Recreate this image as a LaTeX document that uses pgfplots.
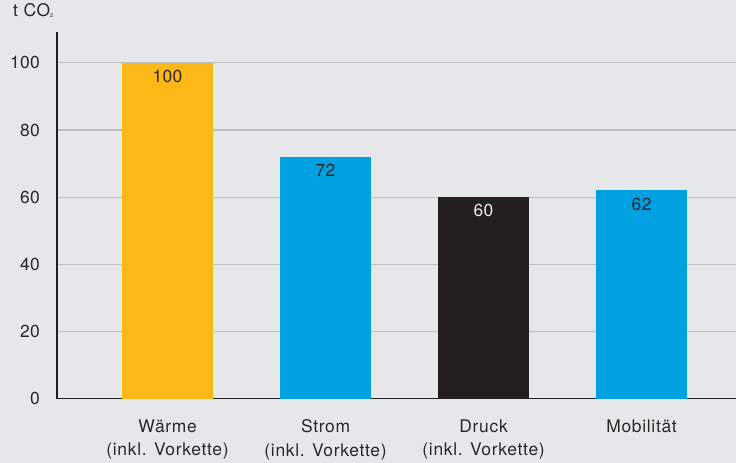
\documentclass[border=0pt]{standalone}
\usepackage{fontspec}
\setmainfont{TeX Gyre Heros}
\newfontfamily\spacedfont[LetterSpace=4]{TeX Gyre Heros}
\newfontfamily\numberfont[LetterSpace=2]{TeX Gyre Heros}
\usepackage{pgfplots}
\pgfplotsset{compat=1.18}
\definecolor{bg}{HTML}{E6E7E9}
\definecolor{gridgrey}{HTML}{BDBEC0}
\definecolor{txt}{HTML}{2A2728}
\definecolor{orangebar}{HTML}{FBB817}
\definecolor{bluebar}{HTML}{00A0E1}
\definecolor{darkbar}{HTML}{231F20}
\newcommand{\numfont}{\numberfont\fontsize{17.5}{24}\selectfont}
\newcommand{\lblfont}{\spacedfont\fontsize{17.5}{23.5}\selectfont}
\begin{document}
\begin{tikzpicture}[x=1bp,y=1bp]
\fill[bg] (0,0) rectangle (737,463);
\node[anchor=base west, inner sep=0pt, text=txt, font=\lblfont] at (13,446)
  {t CO\raisebox{-0.5bp}{\fontsize{5.5}{6}\selectfont 2}};
\begin{axis}[
  at={(57bp,64bp)}, anchor=south west,
  scale only axis, width=680bp, height=367bp,
  xmin=-0.70, xmax=3.60, ymin=0, ymax=109.2,
  axis x line*=bottom, axis y line*=left,
  axis line style={-, draw=darkbar, line width=1.1bp},
  xtick={0,1,2,3},
  xticklabels={{Wärme\\(inkl. Vorkette)},{Strom\\(inkl. Vorkette)},{Druck\\(inkl. Vorkette)},{Mobilität}},
  ytick={0,20,40,60,80,100},
  major tick length=0pt,
  tick label style={text=txt, inner sep=0pt},
  /pgf/number format/assume math mode=true,
  xticklabel style={font=\lblfont, align=center, anchor=north, yshift=-21bp},
  yticklabel style={font=\numfont, anchor=east, xshift=-17bp},
  ymajorgrids,
  major grid style={draw=gridgrey, line width=1.2bp},
  every node near coord/.style={font=\numfont, anchor=north, inner sep=0pt, yshift=-7bp},
]
\addplot[ybar, bar shift=0pt, bar width=91bp, fill=orangebar, draw=none,
  nodes near coords, nodes near coords style={text=txt}]
  coordinates {(0,100)};
\addplot[ybar, bar shift=0pt, bar width=91bp, fill=bluebar, draw=none,
  nodes near coords, nodes near coords style={text=txt}]
  coordinates {(1,72)};
\addplot[ybar, bar shift=0pt, bar width=91bp, fill=darkbar, draw=none,
  nodes near coords, nodes near coords style={text=bg}]
  coordinates {(2,60)};
\addplot[ybar, bar shift=0pt, bar width=91bp, fill=bluebar, draw=none,
  nodes near coords, nodes near coords style={text=txt}]
  coordinates {(3,62)};
\end{axis}
\end{tikzpicture}
\end{document}
